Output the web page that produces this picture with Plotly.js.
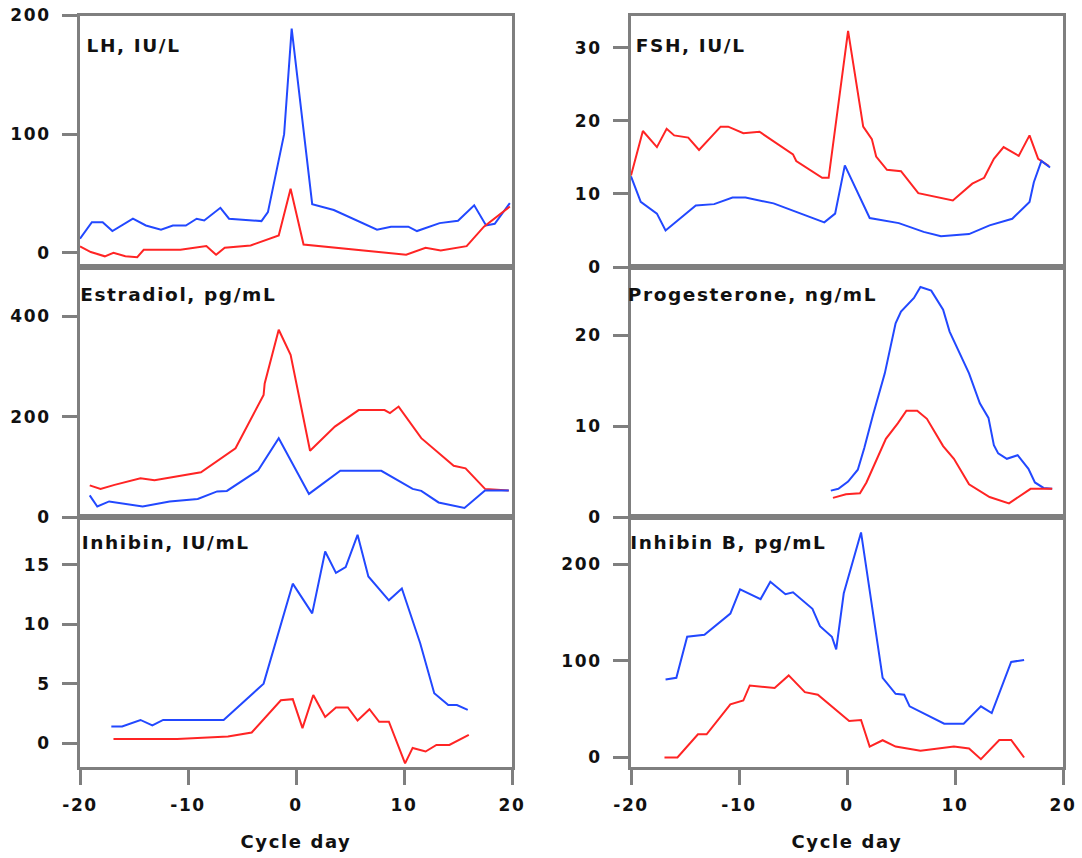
<!DOCTYPE html>
<html>
<head>
<meta charset="utf-8">
<script src="https://cdn.plot.ly/plotly-3.0.1.min.js"></script>
<style>
html,body{margin:0;padding:0;background:#fff;}
#chart{width:1082px;height:858px;}
.main-svg text{letter-spacing:1.6px;}
</style>
</head>
<body>
<div id="chart"></div>
<script>
// ---------- DATA ----------
// LH, IU/L
const lhBlueDay = [-20,-18.9,-17.9,-17.0,-15.1,-13.9,-12.5,-11.4,-10.2,-9.2,-8.5,-7.0,-6.2,-3.2,-2.6,-1.1,-0.4,1.5,3.5,7.5,8.8,10.4,11.2,13.3,15.0,16.5,17.6,18.4,19.8];
const lhBlue    = [11.8,25.8,25.8,18.3,28.7,23,19.4,23,23,28.7,27.2,37.9,28.7,26.7,34.3,100,189,41,36,19.4,22,22,18.3,25,27,40,23,24.4,41.9];
const lhRedDay  = [-20,-19.0,-17.7,-16.9,-15.8,-14.7,-14.1,-10.7,-8.3,-7.4,-6.6,-4.2,-1.6,-0.5,0.7,6.2,10.2,12.0,13.4,15.8,17.4,19.8];
const lhRed     = [5.3,0.6,-3,0,-3,-3.7,2.5,2.5,5.6,-1.7,4.2,6.2,14.6,54,7,2,-1.7,4.2,2,5.6,22,39];

// FSH, IU/L
const fshRedDay  = [-20,-18.9,-17.6,-16.7,-16.0,-14.7,-13.7,-11.7,-11.0,-9.6,-8.1,-5.0,-4.7,-2.3,-1.7,0.1,1.5,2.3,2.7,3.7,5.0,6.6,9.8,11.6,12.7,13.6,14.5,15.9,16.9,17.7,18.7];
const fshRed     = [12.5,18.6,16.4,18.9,18.0,17.7,16.0,19.2,19.2,18.3,18.5,15.4,14.5,12.2,12.2,32.3,19.2,17.5,15.1,13.3,13.1,10.1,9.1,11.4,12.2,14.8,16.4,15.2,18.0,14.8,13.8];
const fshBlueDay = [-20,-19.1,-17.6,-16.8,-14.0,-12.3,-10.6,-9.4,-6.8,-2.1,-1.1,-0.2,2.1,4.8,7.1,8.7,11.3,13.2,15.3,16.9,17.3,18.0,18.8];
const fshBlue    = [12.4,8.9,7.3,5.0,8.4,8.6,9.5,9.5,8.7,6.1,7.3,13.9,6.7,6.0,4.8,4.2,4.5,5.7,6.6,8.9,11.6,14.5,13.6];

// Estradiol, pg/mL
const e2RedDay  = [-19.1,-18.1,-16.8,-14.4,-13.1,-8.8,-5.6,-3.0,-2.9,-1.6,-0.5,1.3,3.6,5.8,8.2,8.7,9.5,11.6,14.6,15.7,17.5,19.7];
const e2Red     = [63,56,64,77,73,89,137,243,266,373,323,132,180,213,213,207,220,157,102,97,56,53];
const e2BlueDay = [-19.1,-18.4,-17.3,-14.2,-11.7,-9.1,-7.3,-6.4,-3.5,-1.6,1.2,4.1,7.9,10.8,11.6,13.2,15.6,17.5,19.7];
const e2Blue    = [43,21,31,21,31,36,51,52,93,157,46,92,92,56,52,29,18,53,53];

// Progesterone, ng/mL
const pBlueDay = [-1.5,-0.8,0.1,1.0,1.6,2.4,3.5,4.5,5.0,6.2,6.8,7.8,8.9,9.5,11.3,12.3,13.1,13.6,14.0,14.8,15.8,16.8,17.4,18.2,19.0];
const pBlue    = [2.9,3.1,3.9,5.2,7.6,11.2,15.8,21.3,22.6,24.1,25.3,24.9,22.8,20.4,15.8,12.5,10.9,7.9,7.0,6.4,6.8,5.3,3.8,3.2,3.1];
const pRedDay  = [-1.3,-0.1,1.2,1.8,3.6,4.7,5.5,6.5,7.4,8.9,9.9,11.3,13.2,15.0,17.0,19.0];
const pRed     = [2.1,2.5,2.6,3.8,8.6,10.3,11.7,11.7,10.8,7.8,6.4,3.6,2.2,1.5,3.1,3.1];

// Inhibin, IU/mL
const inhBlueDay = [-17.1,-16.1,-14.4,-13.3,-12.3,-6.7,-3.0,-0.3,1.5,2.7,3.7,4.6,5.7,6.7,8.6,9.8,11.5,12.8,14.1,14.9,15.9];
const inhBlue    = [1.4,1.4,1.95,1.5,1.95,1.95,5.0,13.4,10.9,16.1,14.3,14.8,17.5,14.0,12.0,13.0,8.4,4.2,3.2,3.2,2.8];
const inhRedDay  = [-16.9,-11.0,-6.3,-4.1,-1.4,-0.3,0.6,1.6,2.7,3.7,4.8,5.7,6.8,7.7,8.6,10.1,10.8,12.0,13.0,14.2,16.0];
const inhRed     = [0.34,0.34,0.56,0.9,3.6,3.7,1.26,4.05,2.2,3.0,3.0,1.9,2.85,1.8,1.8,-1.7,-0.4,-0.7,-0.15,-0.15,0.7];

// Inhibin B, pg/mL
const ibBlueDay = [-16.8,-15.8,-14.8,-13.2,-10.8,-9.9,-8.0,-7.1,-5.7,-5.0,-3.2,-2.5,-1.4,-1.0,-0.3,1.3,3.3,4.5,5.3,5.8,9.0,10.8,12.4,13.4,15.2,16.4];
const ibBlue    = [80.8,82.5,125,127,149,174,164,182,169,171,154,136,125,112,170,233,82.5,66,65,53,35,35,53,46,99,101];
const ibRedDay  = [-16.9,-15.7,-13.8,-13.0,-10.8,-9.6,-9.0,-6.7,-5.4,-3.9,-2.7,0.2,1.3,2.1,3.3,4.5,6.8,9.9,11.3,12.4,14.1,15.2,16.4];
const ibRed     = [0,0,24,24,55,59,74.6,72,85,67.7,65,37.8,38.8,11.3,17.9,11.3,6.9,11.3,9.3,-1.7,18.2,18.2,0];

// Panel labels and ticks
const panelTitles = ["LH, IU/L","FSH, IU/L","Estradiol, pg/mL","Progesterone, ng/mL","Inhibin, IU/mL","Inhibin B, pg/mL"];
const xTickVals = [-20,-10,0,10,20];
const xTickText = ["-20","-10","0","10","20"];
const xTitle = "Cycle day";

// ---------- STYLE ----------
const BLUE = "#2248ff", RED = "#ff2424", GRAY = "#7f7f7f";
const FONT = {family:"DejaVu Sans, Verdana, sans-serif", size:17, color:"#111", weight:"bold"};

function line(x, y, color, xa, ya){
  return {x:x, y:y, type:"scatter", mode:"lines", line:{color:color, width:2},
          xaxis:xa, yaxis:ya, hoverinfo:"skip", showlegend:false};
}

const data = [
  line(lhBlueDay, lhBlue, BLUE, "x", "y"),
  line(lhRedDay, lhRed, RED, "x", "y"),
  line(fshRedDay, fshRed, RED, "x2", "y2"),
  line(fshBlueDay, fshBlue, BLUE, "x2", "y2"),
  line(e2RedDay, e2Red, RED, "x3", "y3"),
  line(e2BlueDay, e2Blue, BLUE, "x3", "y3"),
  line(pBlueDay, pBlue, BLUE, "x4", "y4"),
  line(pRedDay, pRed, RED, "x4", "y4"),
  line(inhBlueDay, inhBlue, BLUE, "x5", "y5"),
  line(inhRedDay, inhRed, RED, "x5", "y5"),
  line(ibBlueDay, ibBlue, BLUE, "x6", "y6"),
  line(ibRedDay, ibRed, RED, "x6", "y6")
];

const W = 1082, H = 858;
const colDom = [[80/W, 512/W], [631/W, 1063/W]];
const rowDom = [[1-267/H, 1-15.5/H], [1-517/H, 1-267/H], [1-766.5/H, 1-517/H]];

function xAxis(col, row, bottom, anchor){
  const a = {domain: colDom[col], range:[-20,20], anchor:anchor,
    showline:true, mirror:true, linecolor:GRAY, linewidth:3,
    showgrid:false, zeroline:false, tickmode:"array", tickvals:xTickVals, ticktext:xTickText,
    tickfont:FONT, fixedrange:true};
  if(bottom){
    a.ticks = "outside"; a.ticklen = 15; a.tickwidth = 3; a.tickcolor = GRAY;
    a.showticklabels = true; a.ticklabelstandoff = 6;
    a.title = {text:xTitle, font:{family:FONT.family, size:18, color:"#111", weight:"bold"}, standoff:22};
  } else {
    a.ticks = ""; a.showticklabels = false;
  }
  return a;
}
function yAxis(col, row, range, dtick, anchor){
  return {domain: rowDom[row], range:range, anchor:anchor, tick0:0, dtick:dtick,
    showline:true, mirror:true, linecolor:GRAY, linewidth:3,
    ticks:"outside", ticklen:15, tickwidth:3, tickcolor:GRAY,
    showgrid:false, zeroline:false, tickfont:FONT, ticklabelstandoff:8, fixedrange:true};
}

const titlePos = [[91,45],[641,45],[91,294],[641,294],[91,542],[641,542]];
const annotations = panelTitles.map((t,i)=>({
  text:t, xref:"paper", yref:"paper", x:titlePos[i][0]/W, y:1-titlePos[i][1]/H,
  xanchor:"left", yanchor:"middle", showarrow:false,
  font:{family:FONT.family, size:18.5, color:"#111", weight:"bold"}
}));

const layout = {
  width:W, height:H, margin:{l:0,r:0,t:0,b:0},
  paper_bgcolor:"#fff", plot_bgcolor:"#fff", showlegend:false,
  xaxis:  xAxis(0,0,false,"y"),
  xaxis2: xAxis(1,0,false,"y2"),
  xaxis3: xAxis(0,1,false,"y3"),
  xaxis4: xAxis(1,1,false,"y4"),
  xaxis5: xAxis(0,2,true,"y5"),
  xaxis6: xAxis(1,2,true,"y6"),
  yaxis:  yAxis(0,0,[-12,200.01],100,"x"),
  yaxis2: yAxis(1,0,[0,34.4],10,"x2"),
  yaxis3: yAxis(0,1,[0,498],200,"x3"),
  yaxis4: yAxis(1,1,[0,27.5],10,"x4"),
  yaxis5: yAxis(0,2,[-1.96,19.0],5,"x5"),
  yaxis6: yAxis(1,2,[-9.3,249],100,"x6"),
  annotations:annotations
};

Plotly.newPlot("chart", data, layout, {displayModeBar:false, staticPlot:true});
</script>
</body>
</html>
